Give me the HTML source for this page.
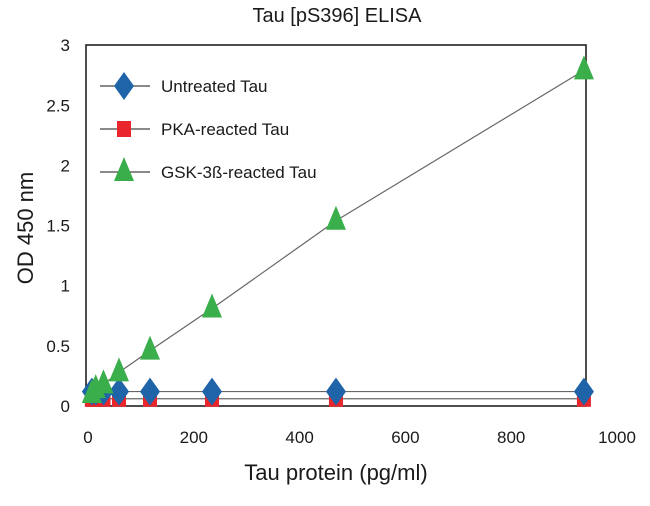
<!DOCTYPE html>
<html><head><meta charset="utf-8"><style>
body{margin:0;background:#fff;font-family:"Liberation Sans",Arial,sans-serif;}
svg text{font-family:"Liberation Sans",Arial,sans-serif;fill:#1a1a1a;}
</style></head><body>
<svg id="chart" width="650" height="501" viewBox="0 0 650 501" xmlns="http://www.w3.org/2000/svg">
<text x="337" y="22" font-size="20" text-anchor="middle">Tau [pS396] ELISA</text>
<g id="axes"></g>
<g id="series"></g>
<g id="legend"></g>
<text x="336" y="480" font-size="22" text-anchor="middle">Tau protein (pg/ml)</text>
<text transform="translate(33,228) rotate(-90)" font-size="22" text-anchor="middle">OD 450 nm</text>
</svg>
<script>
const xValues=[7.3,14.6,29.3,58.6,117.2,234.4,468.75,937.5];
const untreated=[0.12,0.12,0.12,0.12,0.12,0.12,0.12,0.12];
const pka=[0.06,0.06,0.06,0.06,0.06,0.06,0.06,0.06];
const gsk=[0.1,0.14,0.18,0.28,0.46,0.81,1.54,2.79];
const xTicks=[0,200,400,600,800,1000];
const yTicks=[0,0.5,1,1.5,2,2.5,3];
const yTickLabels=["0","0.5","1","1.5","2","2.5","3"];
const NS="http://www.w3.org/2000/svg";
const X=v=>88+v*0.529;
const Y=v=>406-v*120.3;
function mk(tag,attrs,parent){const e=document.createElementNS(NS,tag);for(const k in attrs)e.setAttribute(k,attrs[k]);parent.appendChild(e);return e;}
const axes=document.getElementById('axes');
const box=mk('rect',{x:86,y:45,width:500,height:361,fill:'none',stroke:'#222','stroke-width':1.6},axes);


xTicks.forEach(t=>{const tx=mk('text',{x:X(t),y:443,'font-size':17,'text-anchor':'middle'},axes);tx.textContent=t;

});
yTicks.forEach((t,i)=>{const tx=mk('text',{x:70,y:Y(t)+6,'font-size':17,'text-anchor':'end'},axes);tx.textContent=yTickLabels[i];

});
const ser=document.getElementById('series');
function line(vals,name){const pts=xValues.map((x,i)=>X(x)+','+Y(vals[i])).join(' ');const p=mk('polyline',{points:pts,fill:'none',stroke:'#666','stroke-width':1.2},ser);

}
function diamond(cx,cy,g){return mk('polygon',{points:`${cx},${cy-14} ${cx+10},${cy} ${cx},${cy+14} ${cx-10},${cy}`,fill:'#1f63a8'},g);}
function square(cx,cy,g){return mk('rect',{x:cx-7,y:cy-8,width:14,height:16,fill:'#e8262b'},g);}
function tri(cx,cy,g){return mk('polygon',{points:`${cx},${cy-15} ${cx+10},${cy+9} ${cx-10},${cy+9}`,fill:'#3aae4a'},g);}
line(pka,'pka-line');line(untreated,'untreated-line');line(gsk,'gsk-line');
xValues.forEach((x,i)=>{const m=square(X(x),Y(pka[i]),ser);

});
xValues.forEach((x,i)=>{const m=diamond(X(x),Y(untreated[i]),ser);

});
xValues.forEach((x,i)=>{const m=tri(X(x),Y(gsk[i]),ser);

});
const lg=document.getElementById('legend');
const entries=[['Untreated Tau',diamond,86],['PKA-reacted Tau',square,129],['GSK-3ß-reacted Tau',tri,172]];
entries.forEach(([lab,fn,y])=>{mk('line',{x1:100,y1:y,x2:150,y2:y,stroke:'#444','stroke-width':1.2},lg);fn(124,y,lg);
const t=mk('text',{x:161,y:y+6,'font-size':17},lg);t.textContent=lab;

});
</script>
</body></html>
